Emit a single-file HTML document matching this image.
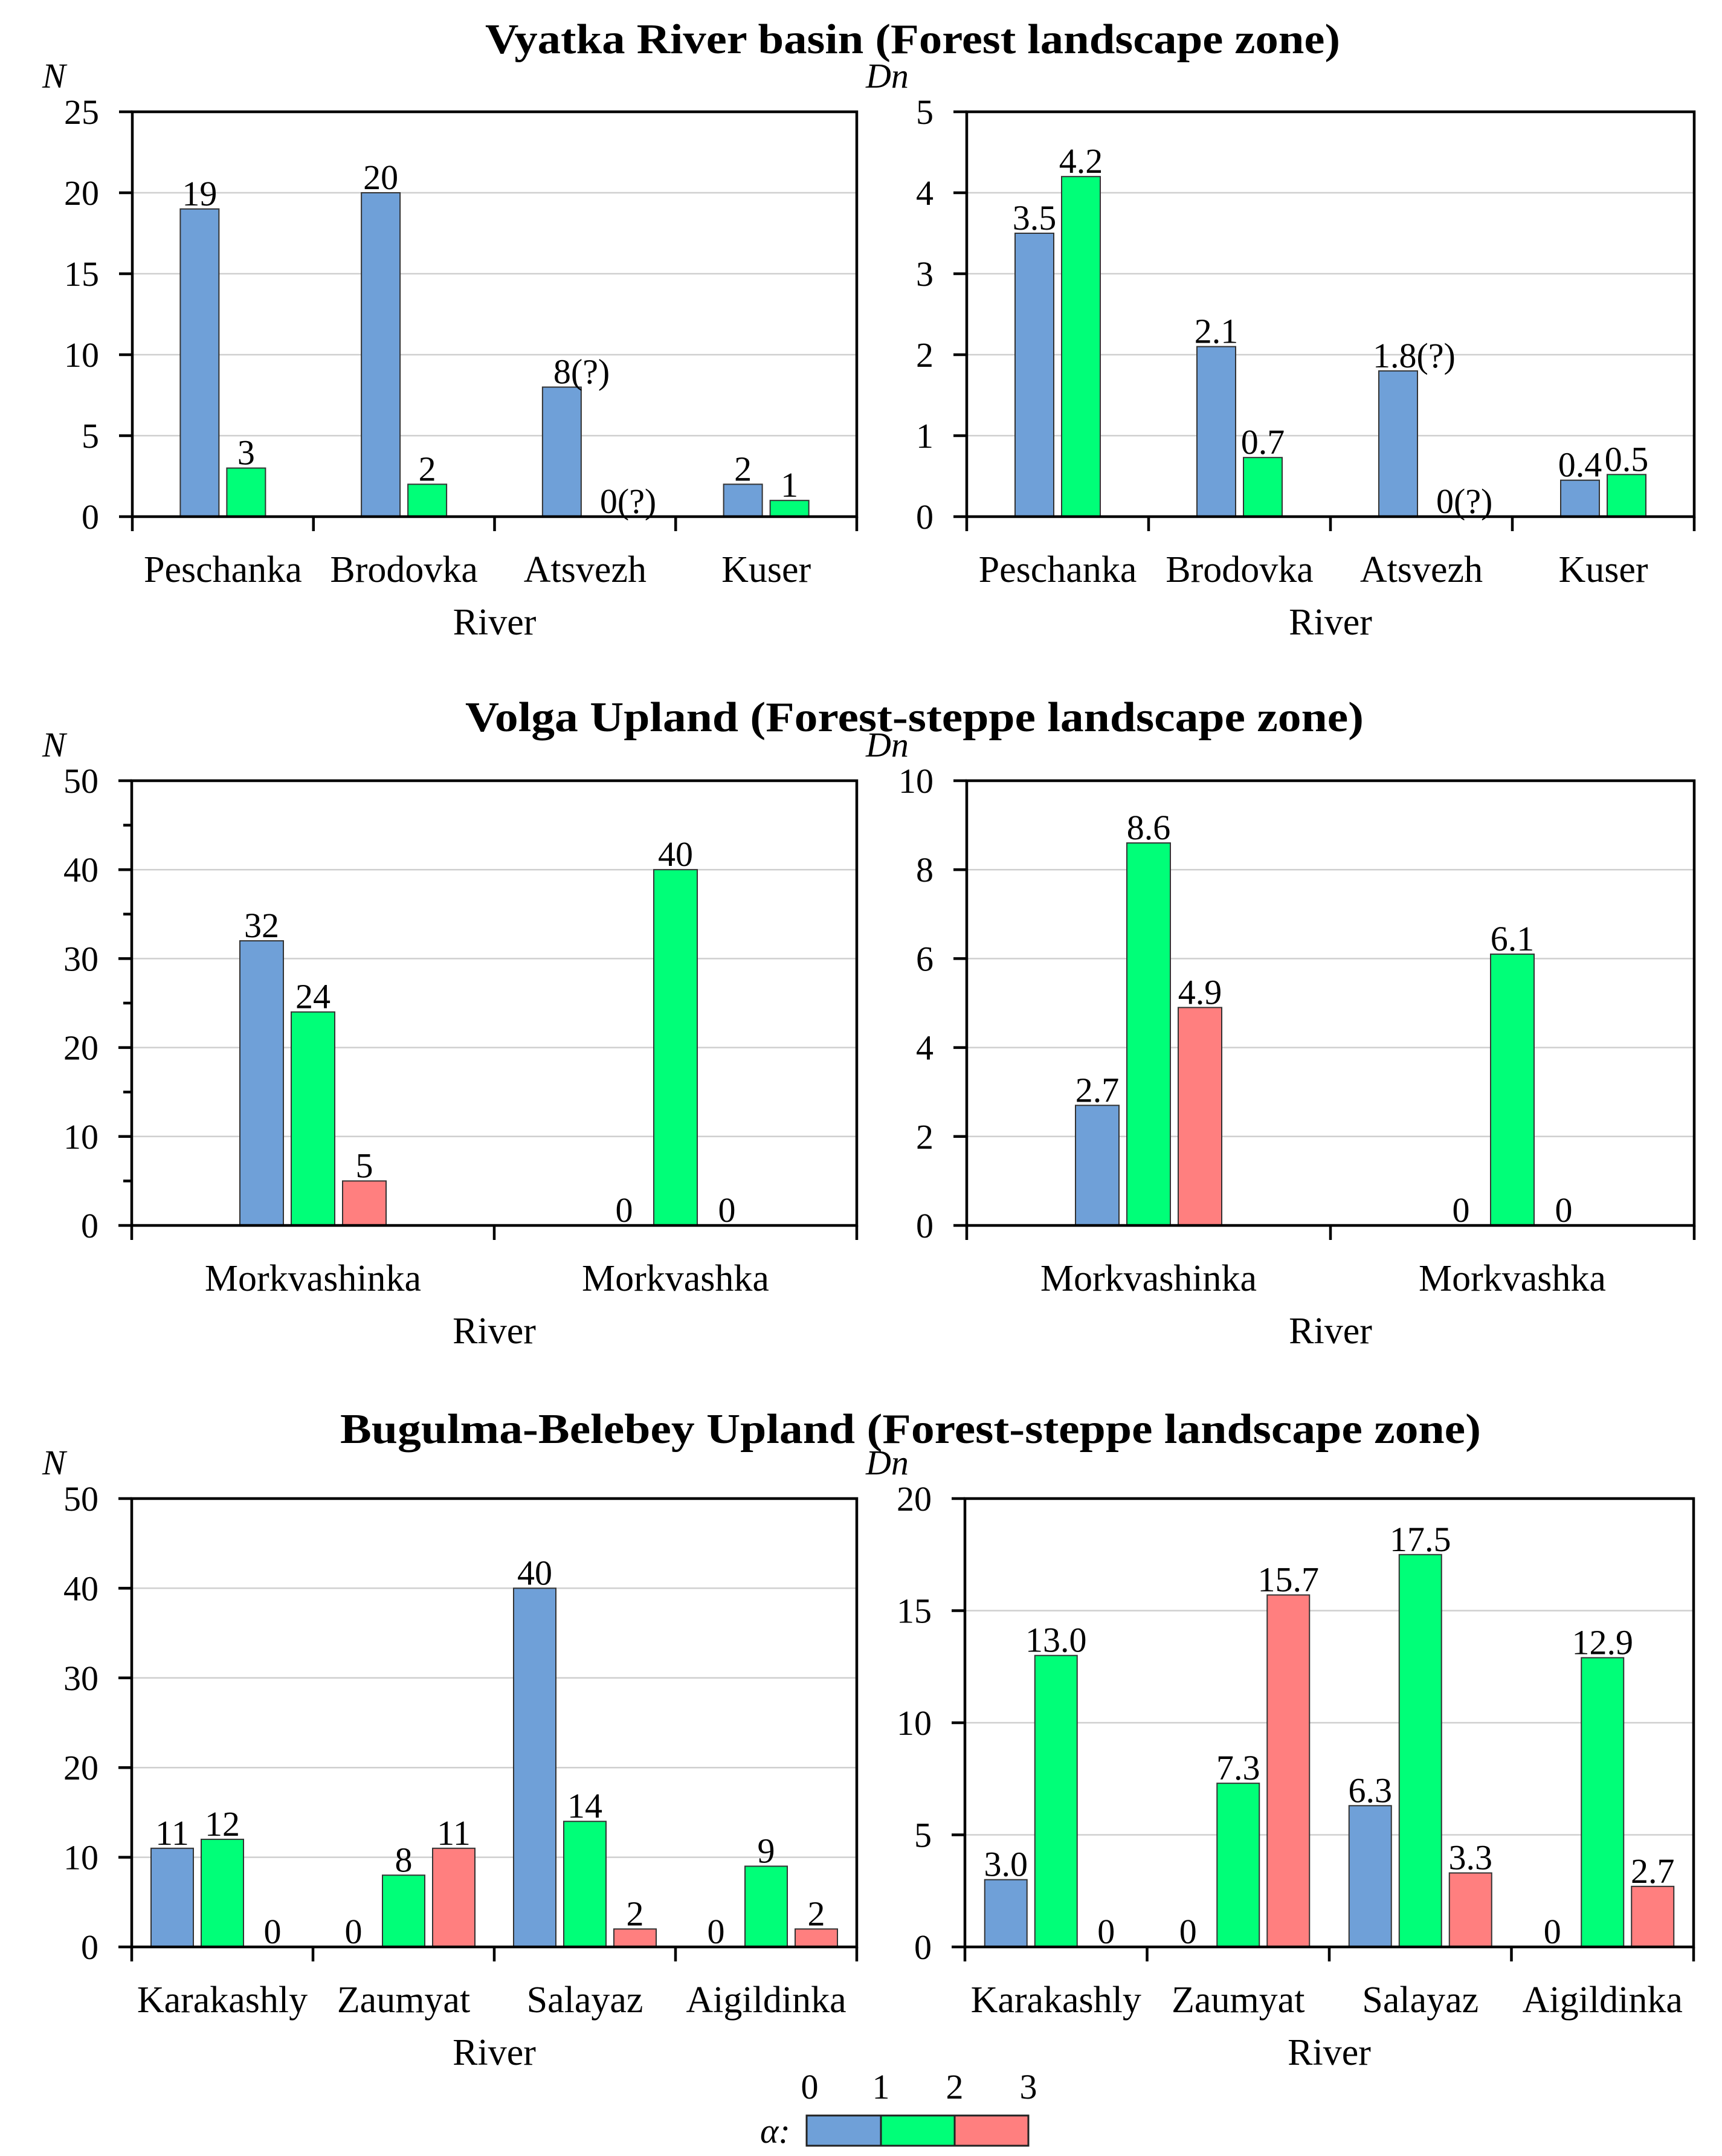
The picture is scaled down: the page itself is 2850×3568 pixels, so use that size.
<!DOCTYPE html>
<html><head><meta charset="utf-8">
<style>
html,body{margin:0;padding:0;background:#fff;}
svg{display:block;font-family:"Liberation Serif",serif;}
</style></head>
<body>
<svg id="chart" width="2850" height="3568" viewBox="0 0 2850 3568" xmlns="http://www.w3.org/2000/svg">
<text x="803" y="88" font-size="70" font-weight="bold" textLength="1415" lengthAdjust="spacingAndGlyphs">Vyatka River basin (Forest landscape zone)</text>
<text x="770" y="1210" font-size="70" font-weight="bold" textLength="1487" lengthAdjust="spacingAndGlyphs">Volga Upland (Forest-steppe landscape zone)</text>
<text x="563" y="2388" font-size="70" font-weight="bold" textLength="1888" lengthAdjust="spacingAndGlyphs">Bugulma-Belebey Upland (Forest-steppe landscape zone)</text>
<g id="panels"></g>
<g>
<text x="1258" y="3546" font-size="58" font-style="italic">α:</text>
<rect x="1335" y="3501" width="123" height="50" fill="#6fa0d8" stroke="#222" stroke-width="3"/>
<rect x="1458" y="3501" width="122" height="50" fill="#00ff78" stroke="#222" stroke-width="3"/>
<rect x="1580" y="3501" width="122" height="50" fill="#ff7f7f" stroke="#222" stroke-width="3"/>
<text x="1340" y="3473" font-size="58" text-anchor="middle">0</text>
<text x="1458" y="3473" font-size="58" text-anchor="middle">1</text>
<text x="1580" y="3473" font-size="58" text-anchor="middle">2</text>
<text x="1702" y="3473" font-size="58" text-anchor="middle">3</text>
</g>
</svg>
<script>
// Row 1: Vyatka
const cats1 = ["Peschanka","Brodovka","Atsvezh","Kuser"];
const n1_a0 = [19,20,8,2];
const n1_a1 = [3,2,0,1];
const n1_lab0 = ["19","20","8(?)","2"];
const n1_lab1 = ["3","2","0(?)","1"];
const dn1_a0 = [3.5,2.1,1.8,0.45];
const dn1_a1 = [4.2,0.73,0,0.52];
const dn1_lab0 = ["3.5","2.1","1.8(?)","0.4"];
const dn1_lab1 = ["4.2","0.7","0(?)","0.5"];
const n1_ticks = [0,5,10,15,20,25];
const dn1_ticks = [0,1,2,3,4,5];
// Row 2: Volga
const cats2 = ["Morkvashinka","Morkvashka"];
const n2_a0 = [32,0];
const n2_a1 = [24,40];
const n2_a2 = [5,0];
const dn2_a0 = [2.7,0];
const dn2_a1 = [8.6,6.1];
const dn2_a2 = [4.9,0];
const n2_ticks = [0,10,20,30,40,50];
const dn2_ticks = [0,2,4,6,8,10];
// Row 3: Bugulma
const cats3 = ["Karakashly","Zaumyat","Salayaz","Aigildinka"];
const n3_a0 = [11,0,40,0];
const n3_a1 = [12,8,14,9];
const n3_a2 = [0,11,2,2];
const dn3_a0 = [3.0,0,6.3,0];
const dn3_a1 = [13.0,7.3,17.5,12.9];
const dn3_a2 = [0,15.7,3.3,2.7];
const n3_ticks = [0,10,20,30,40,50];
const dn3_ticks = [0,5,10,15,20];

const NS="http://www.w3.org/2000/svg";
const root=document.getElementById('panels');
const COLORS=["#6fa0d8","#00ff78","#ff7f7f"];
function mk(tag,attrs,parent){const e=document.createElementNS(NS,tag);for(const k in attrs)e.setAttribute(k,attrs[k]);(parent||root).appendChild(e);return e;}

function panel(o){
  const g=mk('g',{});
  
  
  const max=o.ticks[o.ticks.length-1];
  const y=v=>o.bottom-(v/max)*(o.bottom-o.top);
  const gw=(o.right-o.left)/o.cats.length;
  o.ticks.forEach(t=>{
    if(t>0&&t<max){const l=mk('line',{x1:o.left,x2:o.right,y1:y(t),y2:y(t),stroke:'#cfcfcf','stroke-width':2.5},g);
      
      }
    const tk=mk('line',{x1:o.left-22,x2:o.left,y1:y(t),y2:y(t),stroke:'#000','stroke-width':4.5},g);
    
    
    const tl=mk('text',{x:o.left-55,y:y(t)+20,'font-size':58,'text-anchor':'end'},g);
    tl.textContent=String(t);
    
    
  });
  if(o.minor){for(let i=0;i<o.ticks.length-1;i++){const m=(o.ticks[i]+o.ticks[i+1])/2;
    const mt=mk('line',{x1:o.left-14,x2:o.left,y1:y(m),y2:y(m),stroke:'#000','stroke-width':4.5},g);
    
    }}
  const ns=o.series.length;
  o.cats.forEach((c,i)=>{
    const cx=o.left+gw*(i+0.5);
    o.series.forEach((s,j)=>{
      const bx=cx+(j-(ns-1)/2)*o.sp;
      const v=s[i];
      if(v>0){
        const r=mk('rect',{x:bx-o.bw/2,y:y(v),width:o.bw,height:o.bottom-y(v),fill:COLORS[j],stroke:'#333','stroke-width':2},g);
        
        
      }
      const lab=o.labels?o.labels[j][i]:(o.fmt?o.fmt(v):String(v));
      const q=lab.indexOf('(?)')>=0;
      const base=lab.replace('(?)','');
      const t=mk('text',{x:q?bx-base.length*14:bx,y:y(v)-6,'font-size':58,'text-anchor':q?'start':'middle'},g);
      t.textContent=lab;
      
      
    });
    const cl=mk('text',{x:cx,y:o.bottom+108,'font-size':62,'text-anchor':'middle'},g);
    cl.textContent=c;
    
    
  });
  for(let i=0;i<=o.cats.length;i++){
    const xt=o.left+gw*i;
    const ct=mk('line',{x1:xt,x2:xt,y1:o.bottom,y2:o.bottom+24,stroke:'#000','stroke-width':4.5},g);
    
    
  }
  const fr=mk('path',{d:`M${o.left},${o.bottom}V${o.top}H${o.right}V${o.bottom}Z`,fill:'none',stroke:'#000','stroke-width':4.5},g);
  
  
  const xt=mk('text',{x:(o.left+o.right)/2,y:o.bottom+195,'font-size':62,'text-anchor':'middle'},g);
  xt.textContent='River';
  
  
  const yt=mk('text',{x:o.yx,y:o.top-40,'font-size':58,'font-style':'italic'},g);
  yt.textContent=o.ylab;
  
  
}
const fmt1=v=>v===0?'0':v.toFixed(1);
panel({name:'vyatka-n-chart',cats:cats1,series:[n1_a0,n1_a1],labels:[n1_lab0,n1_lab1],ticks:n1_ticks,left:219,right:1418,top:185,bottom:855,bw:64,sp:77,ylab:'N',yx:70});
panel({name:'vyatka-dn-chart',cats:cats1,series:[dn1_a0,dn1_a1],labels:[dn1_lab0,dn1_lab1],ticks:dn1_ticks,left:1600,right:2804,top:185,bottom:855,bw:64,sp:77,ylab:'Dn',yx:1433});
panel({name:'volga-n-chart',cats:cats2,series:[n2_a0,n2_a1,n2_a2],ticks:n2_ticks,minor:true,left:218,right:1418,top:1292,bottom:2028,bw:72,sp:85,ylab:'N',yx:70});
panel({name:'volga-dn-chart',cats:cats2,series:[dn2_a0,dn2_a1,dn2_a2],fmt:fmt1,ticks:dn2_ticks,left:1600,right:2804,top:1292,bottom:2028,bw:72,sp:85,ylab:'Dn',yx:1433});
panel({name:'bugulma-n-chart',cats:cats3,series:[n3_a0,n3_a1,n3_a2],ticks:n3_ticks,left:218,right:1418,top:2480,bottom:3222,bw:70,sp:83,ylab:'N',yx:70});
panel({name:'bugulma-dn-chart',cats:cats3,series:[dn3_a0,dn3_a1,dn3_a2],fmt:fmt1,ticks:dn3_ticks,left:1597,right:2803,top:2480,bottom:3222,bw:70,sp:83,ylab:'Dn',yx:1433});
</script>
</body></html>
